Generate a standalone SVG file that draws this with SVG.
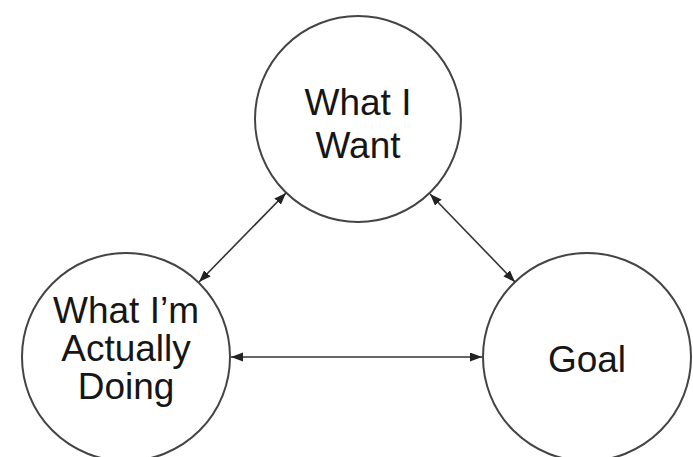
<svg xmlns="http://www.w3.org/2000/svg" width="693" height="457" viewBox="0 0 693 457">
<style>
.node circle{fill:#fff;stroke:#444;stroke-width:2}
.node text{font-family:"Liberation Sans",Arial,sans-serif;font-size:37px;fill:#161616;text-anchor:middle}
.conn line{stroke:#333;stroke-width:1.6;fill:none}
</style>
<defs>
<marker id="ah" markerUnits="userSpaceOnUse" markerWidth="13" markerHeight="10" refX="12" refY="4.5" orient="auto-start-reverse">
<path d="M0,0 L12,4.5 L0,9 z" fill="#222"/>
</marker>
</defs>
<rect width="693" height="457" fill="#fff"/>
<g id="want" class="node">
<circle cx="358" cy="119" r="103"/>
<text x="358" y="115">What I</text>
<text x="358" y="158">Want</text>
</g>
<g id="doing" class="node">
<circle cx="126" cy="357" r="104"/>
<text x="126" y="323">What I’m</text>
<text x="126" y="361">Actually</text>
<text x="126" y="399">Doing</text>
</g>
<g id="goal" class="node">
<circle cx="587" cy="357" r="104"/>
<text x="587" y="372">Goal</text>
</g>
<g id="connectors" class="conn">
<line x1="199" y1="282" x2="286" y2="193" marker-start="url(#ah)" marker-end="url(#ah)"/>
<line x1="430" y1="194" x2="515" y2="282" marker-start="url(#ah)" marker-end="url(#ah)"/>
<line x1="231" y1="357" x2="482" y2="357" marker-start="url(#ah)" marker-end="url(#ah)"/>
</g>
</svg>
